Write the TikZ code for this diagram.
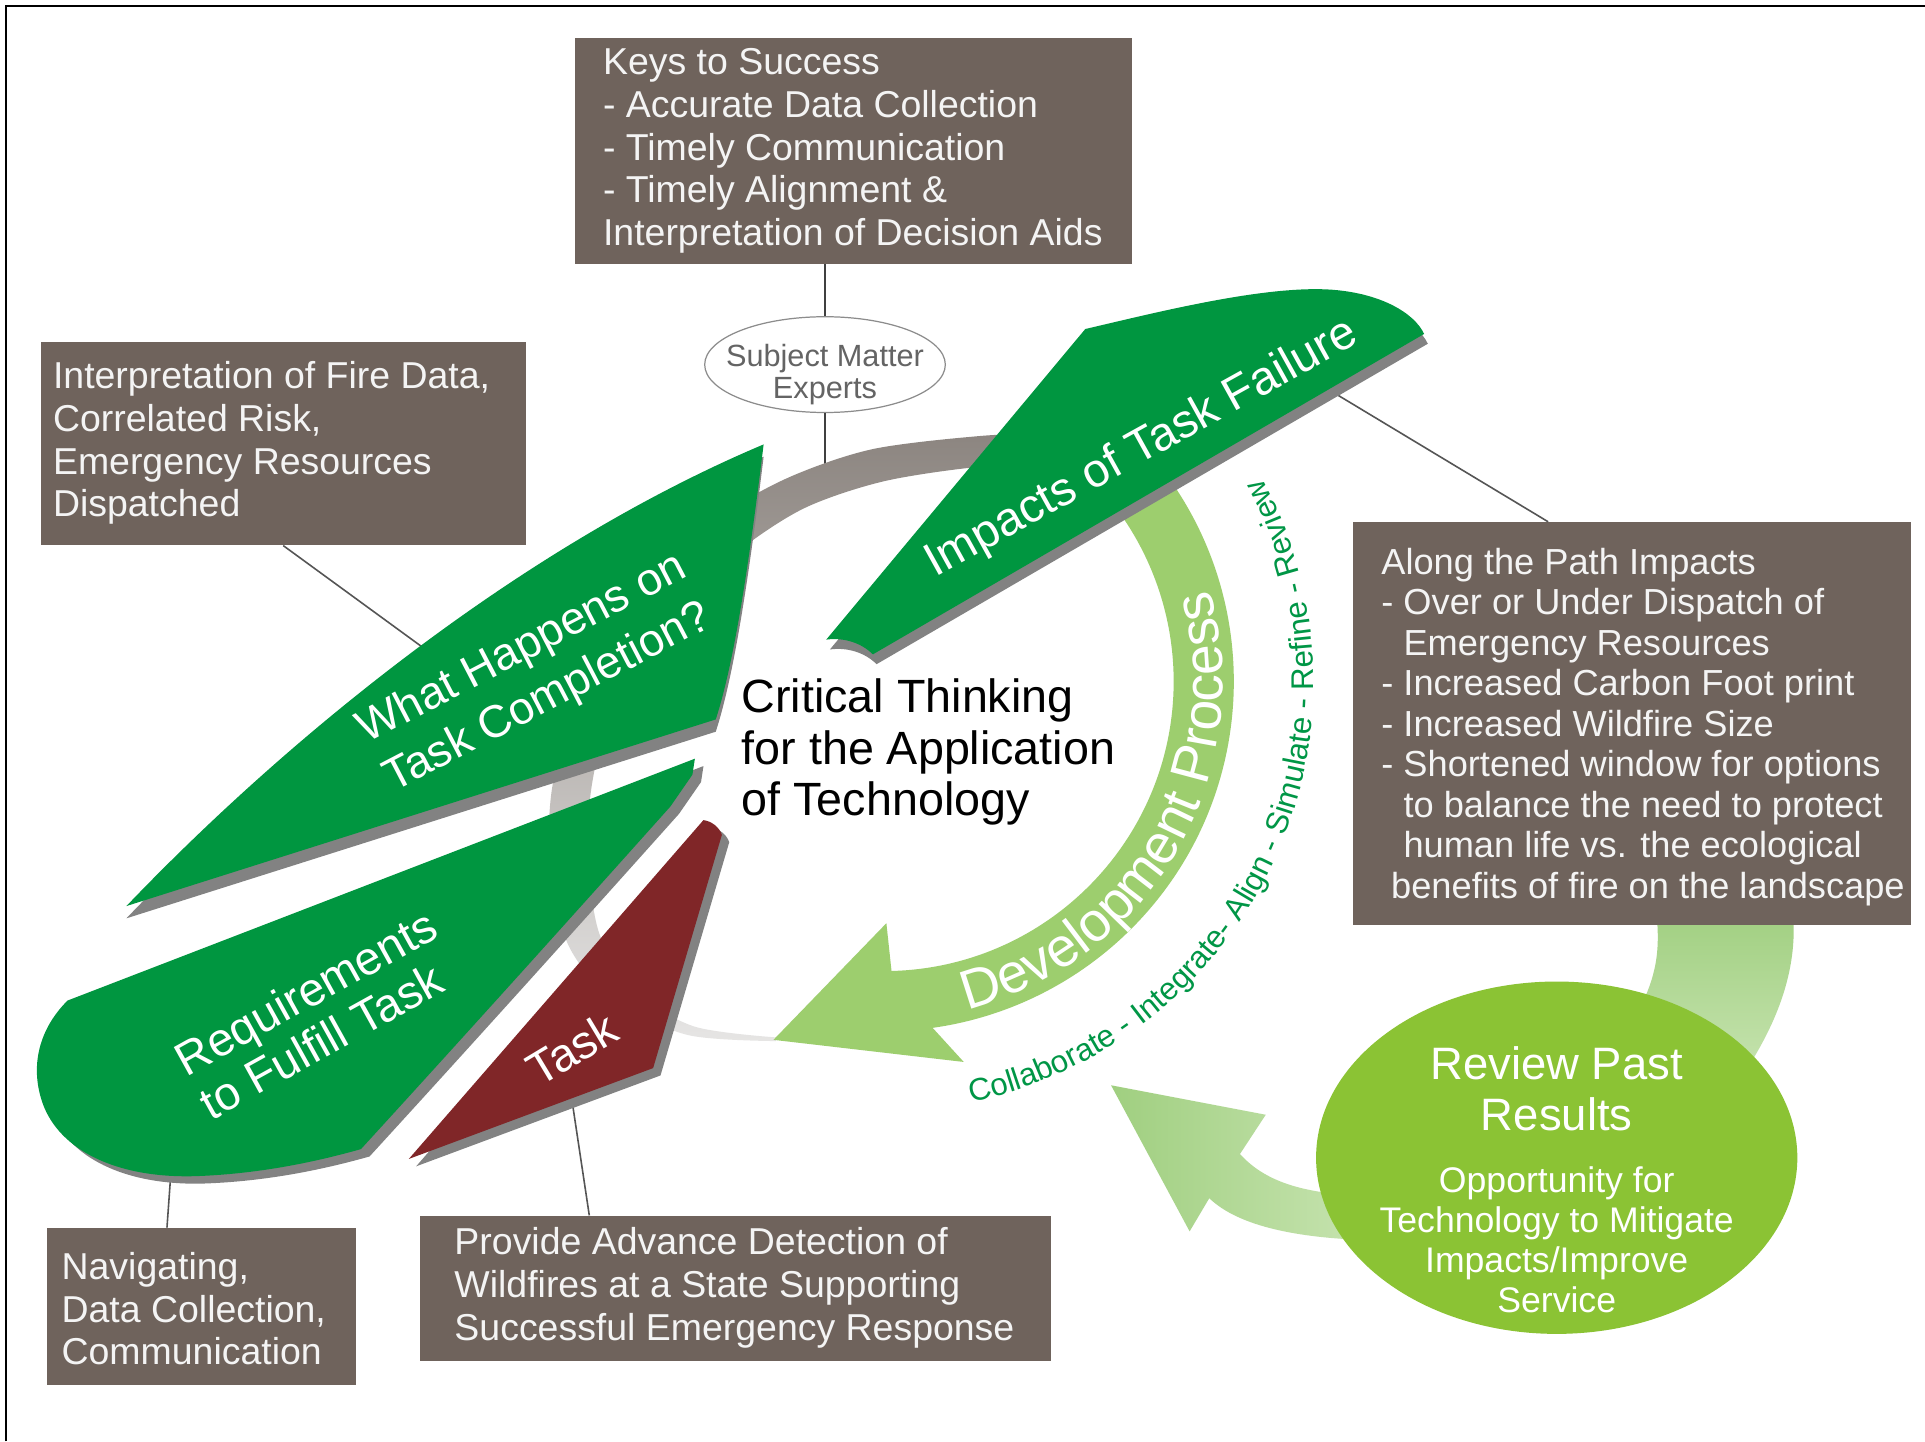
\documentclass[tikz,border=0pt]{standalone}
\usepackage{fontspec}
\setmainfont{Liberation Sans}
\usetikzlibrary{calc,shapes.geometric,decorations.text}
\definecolor{boxbrown}{RGB}{111,99,92}
\definecolor{boxtxt}{RGB}{244,244,244}
\definecolor{leafgreen}{RGB}{0,150,64}
\definecolor{taskred}{RGB}{128,38,40}
\definecolor{shadowgray}{RGB}{130,130,130}
\definecolor{devgreen}{RGB}{157,206,110}
\definecolor{revgreen}{RGB}{139,195,52}
\definecolor{cycgreen}{RGB}{0,150,70}
\definecolor{ringdark}{RGB}{140,133,128}
\definecolor{ringlight}{RGB}{230,229,228}
\definecolor{arrowA}{RGB}{160,207,128}
\definecolor{arrowB}{RGB}{198,227,175}
\definecolor{conngray}{RGB}{85,85,85}
\definecolor{smegray}{RGB}{100,100,100}
\newcommand*\pathImpacts{(673,-521) -- (884,-268) .. controls (940,-255) and (1030,-232) .. (1085,-236) .. controls (1125,-239) and (1152,-255) .. (1160,-272) -- (711,-533) .. controls (702,-524) and (688,-519) .. cycle}
\newcommand*\pathWhat{(103,-738) .. controls (235,-600) and (425,-445) .. (622,-362) .. controls (610,-460) and (598,-540) .. (583,-586) -- cycle}
\newcommand*\pathReq{(566,-618) -- (55,-815) .. controls (30,-840) and (24,-872) .. (36,-902) .. controls (52,-940) and (100,-960) .. (160,-958) .. controls (215,-956) and (262,-945) .. (294,-936) .. controls (380,-842) and (470,-742) .. (546,-657) -- (564,-631) -- cycle}
\newcommand*\pathTask{(573,-668) .. controls (580,-669) and (586,-674) .. (588,-680) -- (532,-870) -- (333,-944) -- cycle}
\begin{document}
\begin{tikzpicture}[x=1pt,y=1pt,
  box/.style={fill=boxbrown, draw=none, inner sep=0pt, anchor=north west},
  boxtext/.style={text=boxtxt, align=left, inner sep=0pt, anchor=west, font=\fontsize{30.5}{34.7}\selectfont},
  shadowfill/.style={fill=shadowgray},
  conn/.style={draw=conngray, line width=1.3pt},
  connthick/.style={draw=black!75, line width=2.2pt},
  leaftext/.style={text=white, inner sep=0pt, font=\fontsize{37}{45}\selectfont}
]
\useasboundingbox (0,0) rectangle (1568,-1174);
\fill[white] (0,0) rectangle (1568,-1174);
\draw[line width=1.8pt] (5,-1174) -- (5,-5) -- (1568,-5);

% light green arrows of the review loop
\shade[top color=arrowA, bottom color=arrowB] (1348,-740) -- (1461,-740) -- (1461,-753) .. controls (1462,-790) and (1450,-830) .. (1420,-875) -- (1330,-832) .. controls (1345,-805) and (1352,-785) .. (1350,-753) -- cycle;
\shade[left color=arrowA, right color=arrowB] (905,-884) -- (1031,-908) -- (1010,-940) .. controls (1030,-962) and (1060,-972) .. (1110,-974) -- (1110,-1010) .. controls (1060,-1008) and (1010,-1000) .. (985,-976) -- (969,-1003) -- cycle;

% boxes
\node[box, minimum width=454pt, minimum height=184pt] (keys) at (468,-31) {};
\node[boxtext] (keysT) at (491,-123) {Keys to Success\\- Accurate Data Collection\\- Timely Communication\\- Timely Alignment \&\\Interpretation of Decision Aids};
\node[box, minimum width=395pt, minimum height=166pt] (interp) at (33,-278) {};
\node[boxtext] (interpT) at (43,-361) {Interpretation of Fire Data,\\Correlated Risk,\\Emergency Resources\\Dispatched};
\node[box, minimum width=454pt, minimum height=328pt] (along) at (1102,-425) {};
\node[boxtext, font=\fontsize{29.5}{33}\selectfont] (alongT) at (1125,-592) {Along the Path Impacts\\- Over or Under Dispatch of\\\hphantom{- }Emergency Resources\\- Increased Carbon Foot print\\- Increased Wildfire Size\\- Shortened window for options\\\hphantom{- }to balance the need to protect\\\hphantom{- }human life vs. the ecological\\\hspace*{8pt}benefits of fire on the landscape};
\node[box, minimum width=252pt, minimum height=128pt] (nav) at (38,-1000) {};
\node[boxtext] (navT) at (50,-1066) {Navigating,\\Data Collection,\\Communication};
\node[box, minimum width=514pt, minimum height=118pt] (prov) at (342,-990) {};
\node[boxtext] (provT) at (370,-1049) {Provide Advance Detection of\\Wildfires at a State Supporting\\Successful Emergency Response};

% subject matter experts
\node[ellipse, draw=black!45, line width=1pt, fill=white, minimum width=196pt, minimum height=78pt, inner sep=0pt] (sme) at (672,-297) {};
\node[text=smegray, align=center, inner sep=0pt, font=\fontsize{25}{26.5}\selectfont] (smeT) at (672,-305) {Subject Matter\\Experts};

% connector end points on shapes
\coordinate (whEdge) at (348,-530);
\coordinate (impEdge) at (1080,-316);
\coordinate (reqEdge) at (139,-958);
\coordinate (taskEdge) at (466,-897);
\coordinate (smeRing) at (672,-392);

\draw[connthick] (sme.north |- keys.south) -- (sme.north);
\draw[connthick] (sme.south) -- (smeRing);
\draw[conn] (interp.south) -- (whEdge);
\draw[conn] (impEdge) -- ($(along.north west)+(159,0)$);
\draw[conn] (reqEdge) -- ($(nav.north west)+(98,0)$);
\draw[conn] (taskEdge) -- ($(prov.north west)+(138,0)$);

% gray ring
\shade[top color=ringdark, bottom color=ringlight]
  plot[smooth] coordinates {(875,-352) (800,-355) (710,-366) (640,-390) (580,-425) (520,-480) (472,-560) (450,-640) (448,-705) (463,-770) (500,-815) (560,-843) (632,-848)}
  -- plot[smooth] coordinates {(632,-845) (565,-836) (515,-806) (488,-760) (479,-700) (482,-640) (500,-570) (545,-502) (600,-450) (655,-414) (720,-392) (800,-380) (875,-378)}
  -- cycle;

% development process arrow
\coordinate (devC) at (720,-555);
\fill[devgreen] ($(devC)+(45:285)$) arc[start angle=45, end angle=-82, radius=285] -- (785,-865) -- (630,-847) -- (722,-752) -- ($(devC)+(-88.5:236)$) arc[start angle=-88.5, end angle=45, radius=236] -- cycle;
\path[decorate, decoration={text along path, text align=center, text={|\fontsize{45}{45}\selectfont\color{white}|Development Process}}]
  ($(devC)+(-105:276)$) arc[start angle=-105, end angle=45, radius=276];
\path[decorate, decoration={text along path, text align=center, text={|\fontsize{25.5}{25.5}\selectfont\color{cycgreen}|Collaborate - Integrate- Align - Simulate - Refine - Review}}]
  ($(devC)+(-100:350)$) arc[start angle=-100, end angle=50, radius=350];

% green and red blades with shadows
\fill[shadowfill, shift={(3,-8)}] \pathImpacts;
\fill[leafgreen] \pathImpacts;
\fill[shadowfill, shift={(0,-10)}] \pathWhat;
\fill[leafgreen] \pathWhat;
\fill[shadowfill, shift={(7,-6)}] \pathReq;
\fill[leafgreen] \pathReq;
\fill[shadowfill, shift={(6,-6)}] \pathTask;
\fill[taskred] \pathTask;

\node[leaftext, rotate=29, font=\fontsize{38.5}{45}\selectfont] (impT) at (930,-366) {Impacts of Task Failure};
\node[leaftext, rotate=27.5, align=center] (whT) at (436,-549) {What Happens on\\Task Completion?};
\node[leaftext, rotate=29, align=left, font=\fontsize{38}{41}\selectfont] (reqT) at (259,-826) {Requirements\\to Fulfill Task};
\node[leaftext, rotate=31, font=\fontsize{38}{40}\selectfont] (taskT) at (466,-854) {Task};

% centre text
\node[anchor=west, align=left, inner sep=0pt, font=\fontsize{38}{42}\selectfont] (ct) at (604,-612.5) {Critical Thinking\\for the Application\\of Technology};

% review ellipse
\node[ellipse, fill=revgreen, minimum width=392pt, minimum height=287pt, inner sep=0pt] (rev) at (1268,-943) {};
\node[text=white, align=center, inner sep=0pt, font=\fontsize{37}{42}\selectfont] (revT) at (1268,-887) {Review Past\\Results};
\node[text=white, align=center, inner sep=0pt, font=\fontsize{29}{32.5}\selectfont] (revS) at (1268,-1010) {Opportunity for\\Technology to Mitigate\\Impacts/Improve\\Service};
\end{tikzpicture}
\end{document}
